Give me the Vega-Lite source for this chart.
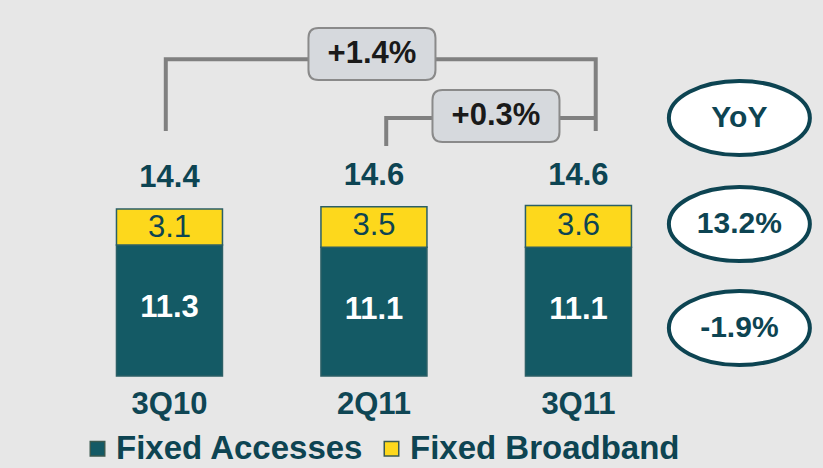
{
  "$schema": "https://vega.github.io/schema/vega-lite/v6.json",
  "width": 823,
  "height": 468,
  "autosize": {"type": "fit", "contains": "padding"},
  "padding": 0,
  "background": "#e7e7e7",
  "config": {
    "view": {"stroke": null},
    "text": {"font": "Liberation Sans"},
    "legend": {"labelFont": "Liberation Sans"}
  },
  "datasets": {
    "quarters": [
      {"period": "3Q10", "pos": 1, "Fixed Accesses": 11.3, "Fixed Broadband": 3.1, "total": 14.4, "level": -2.5},
      {"period": "2Q11", "pos": 2, "Fixed Accesses": 11.1, "Fixed Broadband": 3.5, "total": 14.6, "level": -2.5},
      {"period": "3Q11", "pos": 3, "Fixed Accesses": 11.1, "Fixed Broadband": 3.6, "total": 14.6, "level": -2.5}
    ],
    "bracketPath": [
      {"bracket": "+1.4%", "seq": 1, "px": 0.982, "py": 21.12},
      {"bracket": "+1.4%", "seq": 2, "px": 0.982, "py": 27.3},
      {"bracket": "+1.4%", "seq": 3, "px": 3.0845, "py": 27.3},
      {"bracket": "+1.4%", "seq": 4, "px": 3.0845, "py": 21.12},
      {"bracket": "+0.3%", "seq": 1, "px": 2.06, "py": 19.83},
      {"bracket": "+0.3%", "seq": 2, "px": 2.06, "py": 22.24},
      {"bracket": "+0.3%", "seq": 3, "px": 3.0845, "py": 22.24}
    ],
    "changes": [
      {"label": "+1.4%", "cx": 1.9903, "cy": 27.76},
      {"label": "+0.3%", "cx": 2.5967, "cy": 22.415}
    ],
    "yoy": [
      {"label": "YoY", "col": 3.787, "level": 22.24},
      {"label": "13.2%", "col": 3.787, "level": 13.1},
      {"label": "-1.9%", "col": 3.787, "level": 4.14}
    ]
  },
  "layer": [
    {
      "data": {"name": "quarters"},
      "transform": [{"fold": ["Fixed Accesses", "Fixed Broadband"], "as": ["series", "value"]}],
      "mark": {"type": "bar", "width": 106, "stroke": "#2b5f66", "strokeWidth": 1.5},
      "encoding": {
        "x": {"field": "pos", "type": "quantitative", "scale": {"domain": [0.1957, 4.1715], "nice": false, "zero": false}, "axis": null},
        "y": {"field": "value", "type": "quantitative", "stack": "zero", "scale": {"domain": [-7.931, 32.414], "nice": false, "zero": false}, "axis": null},
        "order": {"field": "series", "sort": "ascending"},
        "color": {
          "field": "series",
          "type": "nominal",
          "scale": {"domain": ["Fixed Accesses", "Fixed Broadband"], "range": ["#145a65", "#fdd81c"]},
          "legend": {
            "title": null,
            "orient": "none",
            "direction": "horizontal",
            "legendX": 81,
            "legendY": 432,
            "symbolType": "square",
            "symbolSize": 210,
            "symbolStrokeWidth": 1.5,
            "symbolStrokeColor": "#3b5a50",
            "symbolOpacity": 1,
            "labelFontSize": 33,
            "labelFontWeight": "bold",
            "labelColor": "#0d4452",
            "labelOffset": 2,
            "columnPadding": 11,
            "padding": 0,
            "labelLimit": 400
          }
        }
      }
    },
    {
      "data": {"name": "quarters"},
      "mark": {"type": "text", "fontSize": 31, "fontWeight": "bold", "color": "#0d4452", "dy": -31, "baseline": "middle"},
      "encoding": {
        "x": {"field": "pos", "type": "quantitative"},
        "y": {"field": "total", "type": "quantitative"},
        "text": {"field": "total", "type": "quantitative", "format": ".1f"}
      }
    },
    {
      "data": {"name": "quarters"},
      "mark": {"type": "text", "fontSize": 31, "color": "#0d4452", "dy": 19, "baseline": "middle"},
      "encoding": {
        "x": {"field": "pos", "type": "quantitative"},
        "y": {"field": "total", "type": "quantitative"},
        "text": {"field": "Fixed Broadband", "type": "quantitative", "format": ".1f"}
      }
    },
    {
      "data": {"name": "quarters"},
      "mark": {"type": "text", "fontSize": 31, "fontWeight": "bold", "color": "#ffffff", "dy": 63, "baseline": "middle"},
      "encoding": {
        "x": {"field": "pos", "type": "quantitative"},
        "y": {"field": "Fixed Accesses", "type": "quantitative"},
        "text": {"field": "Fixed Accesses", "type": "quantitative", "format": ".1f"}
      }
    },
    {
      "data": {"name": "quarters"},
      "mark": {"type": "text", "fontSize": 31, "fontWeight": "bold", "color": "#0f4654", "baseline": "middle"},
      "encoding": {
        "x": {"field": "pos", "type": "quantitative"},
        "y": {"field": "level", "type": "quantitative"},
        "text": {"field": "period", "type": "nominal"}
      }
    },
    {
      "data": {"name": "bracketPath"},
      "mark": {"type": "line", "color": "#808080", "strokeWidth": 4, "strokeJoin": "miter", "strokeCap": "butt"},
      "encoding": {
        "x": {"field": "px", "type": "quantitative"},
        "y": {"field": "py", "type": "quantitative"},
        "detail": {"field": "bracket", "type": "nominal"},
        "order": {"field": "seq", "type": "quantitative"}
      }
    },
    {
      "data": {"name": "changes"},
      "mark": {"type": "point", "shape": "M-0.843,-0.409L0.843,-0.409Q1,-0.409,1,-0.252L1,0.252Q1,0.409,0.843,0.409L-0.843,0.409Q-1,0.409,-1,0.252L-1,-0.252Q-1,-0.409,-0.843,-0.409Z", "size": 16129, "filled": true, "fill": "#d6d9dd", "stroke": "#8a8a8a", "strokeWidth": 2, "opacity": 1},
      "encoding": {"x": {"field": "cx", "type": "quantitative"}, "y": {"field": "cy", "type": "quantitative"}}
    },
    {
      "data": {"name": "changes"},
      "mark": {"type": "text", "fontSize": 31, "fontWeight": "bold", "color": "#1a1a1a", "baseline": "middle"},
      "encoding": {"x": {"field": "cx", "type": "quantitative"}, "y": {"field": "cy", "type": "quantitative"}, "text": {"field": "label", "type": "nominal"}}
    },
    {
      "data": {"name": "yoy"},
      "mark": {"type": "point", "shape": "M-1,0C-1,-0.29,-0.5523,-0.525,0,-0.525C0.5523,-0.525,1,-0.29,1,0C1,0.29,0.5523,0.525,0,0.525C-0.5523,0.525,-1,0.29,-1,0Z", "size": 19881, "filled": true, "fill": "#ffffff", "stroke": "#0d4452", "strokeWidth": 4, "opacity": 1},
      "encoding": {"x": {"field": "col", "type": "quantitative"}, "y": {"field": "level", "type": "quantitative"}}
    },
    {
      "data": {"name": "yoy"},
      "mark": {"type": "text", "fontSize": 30, "fontWeight": "bold", "color": "#0d4452", "baseline": "middle"},
      "encoding": {"x": {"field": "col", "type": "quantitative"}, "y": {"field": "level", "type": "quantitative"}, "text": {"field": "label", "type": "nominal"}}
    }
  ]
}
